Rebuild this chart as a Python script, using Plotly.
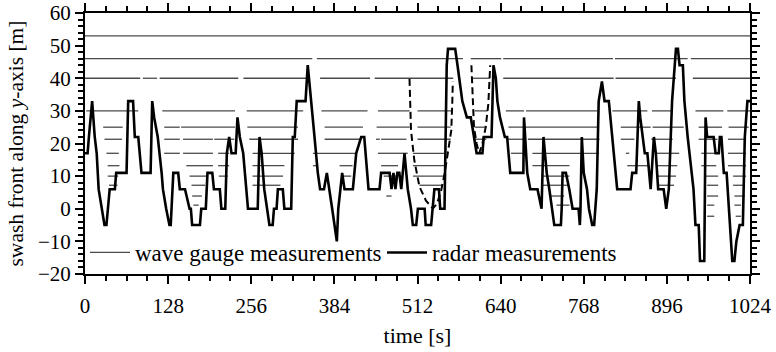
import plotly.graph_objects as go

# ---------------- data ----------------
radar_t = [0, 4, 6, 11, 15, 18, 21, 26, 30, 33, 35, 38, 46, 48, 64, 66.5, 74, 76.7, 82, 87, 101,
           103.5, 106.5, 112, 118, 120, 125, 130, 132, 134, 136, 143.5, 146, 154, 161, 163, 165, 177,
           179, 186, 188.6, 196, 198.5, 207.6, 210, 216, 218.4, 222, 225.6, 232, 234.8, 238.4, 243.6,
           251, 266, 268.7, 272, 276, 280, 284, 289, 291, 295, 297, 304.6, 307, 317.5, 320, 323, 326,
           339.6, 343, 353.4, 358.5, 362, 368, 372.4, 376.5, 380.6, 387.8, 390, 396, 399.6, 412.5,
           417.6, 425.3, 430, 436.6, 453.5, 456, 469, 472, 475, 478, 481, 484, 487, 492, 497, 502,
           504.8, 510, 512.6, 523, 524.6, 533, 535, 538, 545, 547, 553.6, 557, 559, 570, 573.6, 576,
           581, 588, 594, 599, 603, 612, 614, 626, 629, 632.6, 635, 639, 646.5, 650, 654.8, 675, 676,
           681, 685.6, 696.8, 703, 706, 711, 715, 719, 722.6, 732.8, 734, 735.4, 740.5, 745.7, 750.8,
           760, 762, 763, 765, 768, 773, 776, 781, 784, 786, 788, 791, 796, 800, 806.6, 809, 812,
           817, 819.5, 840, 842.6, 848.8, 852.8, 855, 862, 866, 871, 876, 879, 882.6, 891, 895, 899,
           904, 910, 913, 915.5, 920.6, 923, 928, 934, 937, 940, 945, 947, 953.6, 955.6, 958, 968,
           971, 976, 977.6, 980, 983.7, 988, 993, 996.7, 1000, 1003, 1008, 1013, 1016, 1020, 1024]
radar_v = [17, 17, 22, 33, 22, 17, 6, 0, -5, -5, 0, 6, 6, 11, 11, 33, 33, 22, 22, 11, 11,
           33, 28, 22, 11, 6, 0, -5, -5, 6, 11, 11, 6, 6, 0, 0, -5, -5,
           0, 0, 11, 11, 6, 6, 0, 0, 17, 22, 17, 17, 28, 22, 17,
           0, 0, 22, 17, 6, 0, -5, -5, 0, 0, 6, 6, 0, 0, 22, 22, 33,
           33, 44, 22, 11, 6, 6, 11, 6, 0, -10, 0, 11, 6, 6,
           17, 22, 22, 6, 6, 11, 11, 6, 11, 6, 11, 11, 6, 17, 6, 0,
           -5, -5, 0, 0, -5, -5, 0, 6, 6, 0, 0, 44, 49, 49, 44, 40,
           33, 28, 28, 22, 17, 17, 22, 22, 44, 40, 33, 28, 22, 22, 11, 11, 28,
           11, 6, 6, 0, 22, 11, 6, 0, -5, -5, 0, 11, 11, 6, 0,
           0, -5, 0, 22, 11, 6, 0, -5, -5, 0, 6, 33, 39, 33, 33, 28, 22,
           11, 6, 6, 11, 11, 33, 28, 17, 17, 6, 22, 17, 6, 6, 0, 6,
           33, 49, 49, 44, 44, 33, 22, 11, 6, -5, -5, -16, -16, 28, 22, 22,
           17, 17, 22, 22, 11, 11, -5, -16, -16, -10, -5, -5, 22, 33, 33]

# estimated swash trajectories (dashed)
dash1_t = [499.7, 500.5, 502, 507, 515, 525, 535.6, 542, 548.5, 554, 558.7, 562, 564, 565.5, 566.4]
dash1_v = [39.8, 33, 24, 15, 6.8, 2.5, 0.1, 1.5, 5.7, 11, 17, 21, 24, 32, 39]
dash2_t = [595, 596, 597, 599, 603, 607, 612, 617, 621, 623, 624]
dash2_v = [44, 38, 32, 25, 20, 17, 20, 25, 32, 38, 44]

# wave gauge positions [m] and the time spans [s] in which each gauge line is drawn
gauge_levels = [53, 46, 40, 30, 25, 21.3, 17, 13.2, 10, 7.2, 3.9, 1.1, -2.3]
gauge_53 = [(0, 1024)]
gauge_46 = [(0, 350), (357, 582), (594, 641), (644, 813), (816, 928), (933, 1024)]
gauge_40 = [(0, 85), (89, 111), (115, 236), (244, 341), (362, 439), (446, 567), (597, 624),
            (644, 814), (817, 910), (936, 1024)]
gauge_30 = [(2, 82), (119, 231), (249, 336), (364, 435), (451, 500), (512, 566), (600, 620),
            (648, 676), (679, 789), (812, 866), (873, 905), (940, 983), (989, 1024)]
gauge_25 = [(28, 58), (122, 146), (148, 231), (250, 328), (369, 428), (449, 500), (512, 563),
            (600, 618), (652, 791), (825, 871), (874, 922), (945, 981), (991, 1022)]
gauge_21 = [(30, 57), (122, 146), (151, 197), (199, 230), (253, 328), (369, 426), (448, 454),
            (456, 495), (512, 563), (600, 618), (651, 677), (682, 792), (825, 846), (872, 905),
            (945, 974), (990, 1018)]
gauge_17 = [(33, 52), (122, 146), (151, 197), (205, 222), (258, 323), (351, 418), (451, 497),
            (505, 553), (656, 674), (689, 791), (833, 838), (880, 915), (949, 975), (990, 1018)]
gauge_13 = [(35, 53), (156, 197), (205, 222), (258, 307), (351, 358), (392, 412), (456, 482),
            (505, 553), (689, 746), (835, 869), (882, 912), (949, 972), (990, 1018)]
gauge_10 = [(35, 51), (161, 187), (206, 220), (258, 305), (395, 410), (460, 480), (505, 553),
            (703, 746), (880, 910), (956, 975), (998, 1018)]
gauge_7 = [(37, 50), (164, 185), (258, 301), (515, 551), (705, 745), (882, 907), (958, 975),
           (998, 1016)]
gauge_4 = [(165, 180), (464, 472), (715, 738), (958, 975), (1000, 1016)]
gauge_1 = [(167, 175), (726, 746), (958, 969), (1000, 1010)]
gauge_m2 = [(958, 969), (1002, 1010)]
gauge_spans = [gauge_53, gauge_46, gauge_40, gauge_30, gauge_25, gauge_21, gauge_17, gauge_13,
               gauge_10, gauge_7, gauge_4, gauge_1, gauge_m2]

x_ticks = [0, 128, 256, 384, 512, 640, 768, 896, 1024]

# ---------------- figure ----------------
FONT = "Liberation Serif, Times New Roman, serif"

gx, gy = [], []
for lvl, spans in zip(gauge_levels, gauge_spans):
    for a, b in spans:
        gx += [a, b, None]
        gy += [lvl, lvl, None]

fig = go.Figure()
fig.add_trace(go.Scatter(x=gx, y=gy, mode="lines", name="wave gauge measurements",
                         line=dict(color="#4a4a4a", width=1.3), connectgaps=False))
fig.add_trace(go.Scatter(x=radar_t, y=radar_v, mode="lines", name="radar measurements",
                         line=dict(color="black", width=2.6)))
fig.add_trace(go.Scatter(x=dash1_t, y=dash1_v, mode="lines", showlegend=False,
                         line=dict(color="black", width=2, dash="7px,4px")))
fig.add_trace(go.Scatter(x=dash2_t, y=dash2_v, mode="lines", showlegend=False,
                         line=dict(color="black", width=2, dash="7px,4px")))

axis_common = dict(showline=True, linewidth=2, linecolor="black", mirror="ticks",
                   ticks="outside", ticklen=8, tickwidth=2, tickcolor="black",
                   showgrid=False, zeroline=False, automargin=False,
                   tickfont=dict(family=FONT, size=21, color="black"))

fig.update_xaxes(range=[0, 1024], tickvals=x_ticks, ticklabelstandoff=4,
                 title=dict(text="time [s]", font=dict(family=FONT, size=22, color="black"),
                            standoff=10),
                 minor=dict(dtick=32, ticklen=5, tickwidth=1.5, tickcolor="black", ticks="outside"),
                 **axis_common)
fig.update_yaxes(range=[-20, 60], dtick=10,
                 title=dict(text="swash front along <i>y</i>-axis [m]",
                            font=dict(family=FONT, size=21.5, color="black"), standoff=8),
                 minor=dict(dtick=2, ticklen=5, tickwidth=1.5, tickcolor="black", ticks="outside"),
                 **axis_common)

fig.update_layout(
    width=776, height=352,
    margin=dict(l=85, r=26, t=13, b=78, autoexpand=False),
    paper_bgcolor="white", plot_bgcolor="white",
    font=dict(family=FONT, size=21, color="black"),
    legend=dict(orientation="h", x=0.0, y=0.0, xanchor="left", yanchor="bottom",
                bgcolor="rgba(0,0,0,0)", font=dict(family=FONT, size=23, color="black"),
                itemwidth=40, tracegroupgap=0, entrywidth=242, entrywidthmode="pixels"),
    showlegend=True,
)

fig.write_html("out.html")
